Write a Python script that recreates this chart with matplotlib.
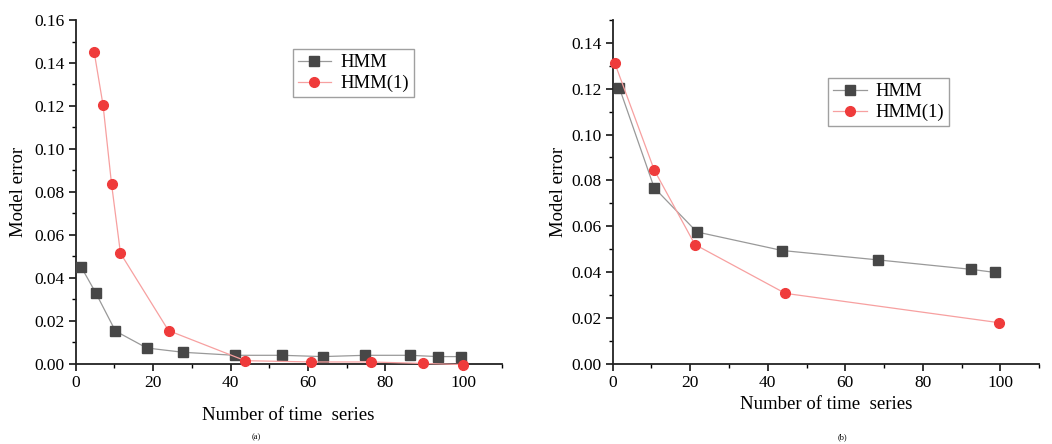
import matplotlib
matplotlib.use("Agg")
import matplotlib.pyplot as plt
from matplotlib.ticker import MultipleLocator

plt.rcParams['font.family'] = ['Liberation Serif', 'DejaVu Serif']

# Panel (a)
a_hmm_x = [1.5, 5.3, 10.3, 18.4, 27.8, 41.1, 53.4, 63.8, 74.7, 86.3, 93.5, 99.6]
a_hmm_y = [0.0449, 0.0327, 0.0152, 0.0073, 0.0053, 0.0039, 0.0039, 0.0033, 0.0039, 0.0039, 0.0033, 0.0033]
a_hmm1_x = [4.8, 7.1, 9.3, 11.6, 24.0, 43.8, 60.9, 76.2, 89.6, 100.0]
a_hmm1_y = [0.1452, 0.1204, 0.0836, 0.0514, 0.0154, 0.0014, 0.0008, 0.0008, 0.0001, -0.0004]

# Panel (b)
b_hmm_x = [1.7, 10.7, 21.7, 43.7, 68.4, 92.3, 98.7]
b_hmm_y = [0.1205, 0.0768, 0.0575, 0.0494, 0.0453, 0.0412, 0.0398]
b_hmm1_x = [0.5, 10.7, 21.2, 44.5, 99.6]
b_hmm1_y = [0.1314, 0.0846, 0.0520, 0.0307, 0.0179]

labels = ["HMM", "HMM(1)"]
xlabel = "Number of time  series"
ylabel = "Model error"

fig = plt.figure(figsize=(10.52, 4.44), dpi=100)
ax1 = fig.add_axes([0.0718, 0.1809, 0.4051, 0.774])
ax2 = fig.add_axes([0.5824, 0.1809, 0.4055, 0.774])

gray = '#474747'
red = '#ef3b3b'

def style(ax, ymax, ypad_label):
    ax.set_xlim(0, 110)
    ax.set_ylim(0, ymax)
    ax.spines['top'].set_visible(False)
    ax.spines['right'].set_visible(False)
    for s in ('left', 'bottom'):
        ax.spines[s].set_linewidth(1.3)
        ax.spines[s].set_color('#222222')
    ax.xaxis.set_major_locator(MultipleLocator(20))
    ax.xaxis.set_minor_locator(MultipleLocator(10))
    ax.yaxis.set_major_locator(MultipleLocator(0.02))
    ax.yaxis.set_minor_locator(MultipleLocator(0.01))
    ax.set_xticks([0, 20, 40, 60, 80, 100])
    ax.yaxis.set_major_formatter(matplotlib.ticker.FormatStrFormatter('%.2f'))
    ax.tick_params(which='major', direction='out', length=5, width=1.1, labelsize=12.5, pad=3)
    ax.tick_params(which='minor', direction='out', length=3, width=1.0)
    ax.set_ylabel(ylabel, fontsize=13.5, labelpad=ypad_label)

style(ax1, 0.16, 5)
style(ax2, 0.15, 3)

kw_h = dict(color='#999999', lw=0.9, marker='s', ms=6.5, mfc=gray, mec=gray)
kw_r = dict(color='#f7a0a0', lw=0.9, marker='o', ms=7, mfc=red, mec=red)

ax1.plot(a_hmm_x, a_hmm_y, label=labels[0], clip_on=False, zorder=3, **kw_h)
ax1.plot(a_hmm1_x, a_hmm1_y, label=labels[1], clip_on=False, zorder=3, **kw_r)
ax2.plot(b_hmm_x, b_hmm_y, label=labels[0], clip_on=False, zorder=3, **kw_h)
ax2.plot(b_hmm1_x, b_hmm1_y, label=labels[1], clip_on=False, zorder=3, **kw_r)

ax1.set_xlabel(xlabel, fontsize=13.5, labelpad=12)
ax2.set_xlabel(xlabel, fontsize=13.5, labelpad=4)

for ax, loc in ((ax1, (0.510, 0.776)), (ax2, (0.505, 0.692))):
    leg = ax.legend(loc='lower left', bbox_to_anchor=loc, fontsize=13.5,
                    frameon=True, fancybox=False, edgecolor='#888888',
                    handlelength=1.8, borderpad=0.25, labelspacing=0.2,
                    handletextpad=0.5, borderaxespad=0)
    leg.get_frame().set_linewidth(1.0)

fig.text(256/1052, 1 - 437.5/444, "(a)", fontsize=6, ha='center', va='center')
fig.text(842/1052, 1 - 437.5/444, "(b)", fontsize=6, ha='center', va='center')

fig.savefig("out.png", dpi=100)
